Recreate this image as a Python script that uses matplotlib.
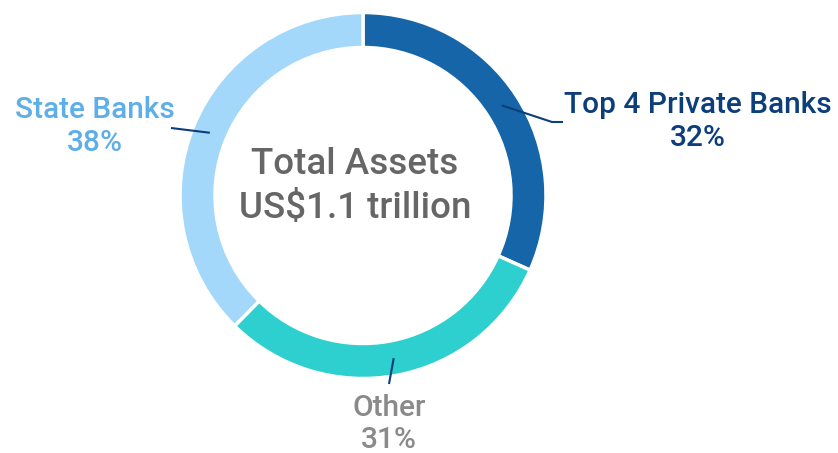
import numpy as np
import matplotlib
matplotlib.use("Agg")
import matplotlib.pyplot as plt

labels = ["Top 4 Private Banks", "Other", "State Banks"]
values = [32, 31, 38]
pct_labels = ["32%", "31%", "38%"]
colors = ["#1565A8", "#2ECFCF", "#A3D8FA"]
text_colors = ["#0B3E7A", "#8A8A8A", "#5EAEE8"]
center_lines = ["Total Assets", "US$1.1 trillion"]

W, H = 838, 453
fig = plt.figure(figsize=(W / 100, H / 100), dpi=100)
ax = fig.add_axes([0, 0, 1, 1])
ax.set_xlim(0, W)
ax.set_ylim(0, H)
ax.axis("off")

cx, cy = 363, H - 195.5
R = 183
ring = 35

wedges, _ = ax.pie(values, colors=colors, startangle=90, counterclock=False,
                   radius=R, center=(cx, cy),
                   wedgeprops=dict(width=ring, edgecolor="white", linewidth=2.5))
ax.set_xlim(0, W)
ax.set_ylim(0, H)
ax.set_aspect("equal")

line_col = "#0B3E7A"
rmid = R - ring / 2
paths = [
    [(552, 122), (563, 122)],
    [(389, 384)],
    [(171, 128)],
]
text_pos = [(698, 105, 138), (389, 408, 440), (95, 110, 143)]

for w, path, col, lab, pct, tp in zip(wedges, paths, text_colors, labels, pct_labels, text_pos):
    ang = np.deg2rad((w.theta1 + w.theta2) / 2)
    sx, sy = cx + rmid * np.cos(ang), cy + rmid * np.sin(ang)
    xs = [sx] + [p[0] for p in path]
    ys = [sy] + [H - p[1] for p in path]
    ax.plot(xs, ys, color=line_col, lw=1.5, solid_capstyle="butt")
    x, y1, y2 = tp
    ax.text(x, H - y1, lab, color=col, fontsize=21.5, family="Roboto",
            fontweight="medium", ha="center", va="center")
    ax.text(x, H - y2, pct, color=col, fontsize=21.5, family="Roboto",
            fontweight="medium", ha="center", va="center")

ax.text(355, H - 165, center_lines[0], color="#666666", fontsize=26.5,
        family="Roboto", fontweight="medium", ha="center", va="center")
ax.text(355, H - 208, center_lines[1], color="#666666", fontsize=26.5,
        family="Roboto", fontweight="medium", ha="center", va="center")

fig.savefig("out.png", dpi=100)
